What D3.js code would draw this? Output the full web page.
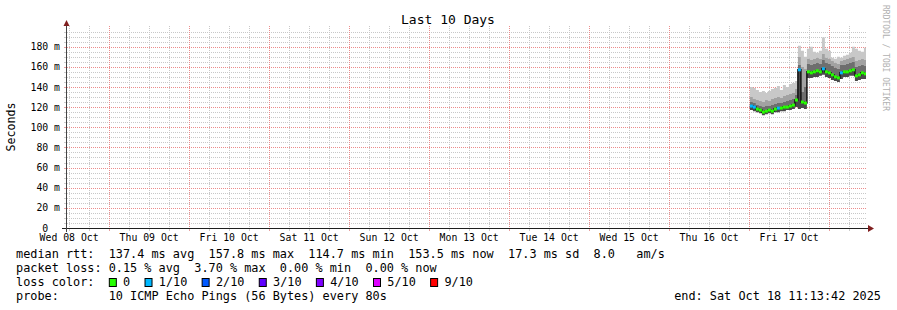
<!DOCTYPE html>
<html>
<head>
<meta charset="utf-8">
<script src="https://cdn.jsdelivr.net/npm/d3@7/dist/d3.min.js"></script>
<style>
  body { margin: 0; background: #fff; }
  svg text { font-family: "DejaVu Sans Mono", monospace; fill: #000; }
</style>
</head>
<body>
<div id="chart"></div>
<script>
// sample start times, hours after Fri 17 Oct 00:00
const hours = [0.4, 1.3, 2.2, 3.1, 4.0, 4.9, 5.8, 6.7, 7.6, 8.5, 9.4, 10.3, 11.2, 12.1, 13.0,
  13.9, 14.8, 15.7, 16.6, 17.5, 18.4, 19.3, 20.2, 21.1, 22.0, 22.9, 23.8, 24.7, 25.6, 26.5,
  27.4, 28.3, 29.2, 30.1, 31.0, 31.9, 32.8, 33.7, 34.6];
const endHour = 35.23;

// round trip times in ms
const median = [121, 120, 118, 117, 115, 116, 117, 116, 118, 119, 119, 120, 120, 121, 122,
  127, 157, 125, 124, 155, 154, 155, 156, 155, 158, 155, 154, 152, 150, 149,
  154, 155, 155, 156, 157, 151, 152, 154, 153];
const loss = [1, 1, 0, 0, 0, 0, 0, 0, 0, 1, 0, 0, 0, 0, 0,
  0, 1, 0, 0, 0, 0, 0, 0, 0, 1, 0, 0, 0, 0, 0,
  1, 0, 0, 0, 0, 0, 0, 0, 0];
const pingMin = [117, 116, 115, 114, 112, 113, 114, 113, 115, 115, 116, 116, 117, 117, 118,
  120, 118, 119, 118, 149, 149, 150, 150, 151, 152, 150, 149, 147, 146, 145,
  148, 150, 150, 151, 151, 146, 147, 148, 148];
const pingP60 = [125, 124, 122, 121, 120, 121, 121, 122, 123, 124, 124, 125, 126, 127, 128,
  132, 162, 135, 140, 163, 162, 163, 164, 163, 167, 164, 163, 161, 159, 158,
  162, 162, 163, 164, 165, 160, 161, 162, 161];
const pingP80 = [130, 128, 127, 126, 125, 127, 126, 128, 129, 130, 129, 131, 132, 133, 134,
  138, 170, 160, 158, 168, 167, 168, 169, 168, 173, 169, 168, 166, 164, 163,
  166, 167, 168, 169, 170, 166, 167, 168, 167];
const pingMax = [140, 139, 137, 135, 136, 134, 136, 138, 139, 141, 137, 142, 140, 143, 144,
  146, 181, 176, 170, 178, 180, 175, 174, 176, 189, 178, 176, 169, 168, 170,
  169, 171, 172, 174, 180, 178, 176, 175, 179];

const yTicks = [0, 0.02, 0.04, 0.06, 0.08, 0.10, 0.12, 0.14, 0.16, 0.18];
const lossLevels = ["0", "1/10", "2/10", "3/10", "4/10", "5/10", "9/10"];
const lossColors = ["#26ff00", "#00b8ff", "#0059ff", "#5e00ff", "#7e00ff", "#dd00ff", "#ff0000"];

const legendLines = [
  "median rtt:  137.4 ms avg  157.8 ms max  114.7 ms min  153.5 ms now  17.3 ms sd  8.0   am/s",
  "packet loss: 0.15 % avg  3.70 % max  0.00 % min  0.00 % now"
];
const probeLine = "probe:       10 ICMP Echo Pings (56 Bytes) every 80s";
const endLine = "end: Sat Oct 18 11:13:42 2025";

const W = 897, H = 310;
const start = new Date(Date.UTC(2025, 9, 8, 11, 13, 42));
const end = new Date(Date.UTC(2025, 9, 18, 11, 13, 42));
const day17 = Date.UTC(2025, 9, 17);
const t = h => new Date(day17 + h * 3600e3);

const data = hours.map((h, i) => ({
  t0: t(h), t1: t(hours[i + 1] !== undefined ? hours[i + 1] : endHour),
  med: median[i] / 1000, loss: loss[i],
  lo: pingMin[i] / 1000, p60: pingP60[i] / 1000, p80: pingP80[i] / 1000, hi: pingMax[i] / 1000
}));
// extra point so step curves reach the end of the last sample
const stepData = data.concat([Object.assign({}, data[data.length - 1], { t0: t(endHour) })]);

const svg = d3.select("#chart").append("svg")
  .attr("width", W).attr("height", H);

const x = d3.scaleUtc().domain([start, end]).range([66, 866]);
const y = d3.scaleLinear().domain([0, 0.2]).range([228, 26.5]);
const lossColor = d3.scaleOrdinal().domain([0, 1, 2, 3, 4, 5, 9]).range(lossColors);

// grid: minor lines first, red major lines on top
const grid = svg.append("g").attr("shape-rendering", "crispEdges");
const hLines = d3.range(5, 200, 5).map(ms => ({ v: ms / 1000, major: ms % 20 === 0 }));
const vLines = d3.utcHour.every(6).range(start, end).map(d => ({ d, major: d.getUTCHours() === 0 }));

[false, true].forEach(pass => {
  const stroke = pass ? "#ec8c8c" : "#c8c8c8";
  hLines.filter(l => l.major === pass).forEach(l => {
    const yy = Math.round(y(l.v)) + 0.5;
    grid.append("line")
      .attr("x1", 67).attr("x2", 866).attr("y1", yy).attr("y2", yy)
      .attr("stroke", stroke).attr("stroke-dasharray", "1,1");
    grid.append("line")
      .attr("x1", 64).attr("x2", 66).attr("y1", yy).attr("y2", yy)
      .attr("stroke", pass ? "#e8a0a0" : "#cccccc");
  });
  vLines.filter(l => l.major === pass).forEach(l => {
    const xx = Math.round(x(l.d)) + 0.5;
    grid.append("line")
      .attr("x1", xx).attr("x2", xx).attr("y1", 26).attr("y2", 228)
      .attr("stroke", stroke).attr("stroke-dasharray", "1,1");
    grid.append("line")
      .attr("x1", xx).attr("x2", xx).attr("y1", 229).attr("y2", 231)
      .attr("stroke", pass ? "#e8a0a0" : "#cccccc");
  });
});

// smoke
const band = (lo, hi) => d3.area()
  .curve(d3.curveStepAfter)
  .x(d => x(d.t0)).y0(d => y(lo(d))).y1(d => y(hi(d)));

const smoke = svg.append("g");
smoke.append("path").datum(stepData).attr("fill", "#c8c8c8")
  .attr("d", band(d => d.p80, d => d.hi));
smoke.append("path").datum(stepData).attr("fill", "#a2a2a2")
  .attr("d", band(d => d.p60, d => d.p80));
smoke.append("path").datum(stepData).attr("fill", "#6e6e6e")
  .attr("d", band(d => d.med, d => d.p60));
smoke.append("path").datum(stepData).attr("fill", "#4a4a4a")
  .attr("d", band(d => d.lo, d => d.med));

// median line
svg.append("path").datum(stepData)
  .attr("fill", "none").attr("stroke", "#111").attr("stroke-width", 1.5)
  .attr("d", d3.line().curve(d3.curveStepAfter).x(d => x(d.t0)).y(d => y(d.med)));

svg.append("g").selectAll("rect").data(data).join("rect")
  .attr("x", d => x(d.t0))
  .attr("width", d => x(d.t1) - x(d.t0))
  .attr("y", d => y(d.med) - 1.5)
  .attr("height", 3)
  .attr("fill", d => lossColor(d.loss));

// axes
const noons = d3.utcDay.range(d3.utcDay.floor(start), end)
  .map(d => d3.utcHour.offset(d, 12))
  .filter(d => d < end);

const xAxis = svg.append("g")
  .attr("transform", "translate(0,228)")
  .call(d3.axisBottom(x).tickValues(noons).tickSize(0).tickPadding(6)
    .tickFormat(d3.utcFormat("%a %d %b")));
xAxis.select(".domain").remove();
xAxis.selectAll("text").style("font-family", "DejaVu Sans Mono").style("font-size", "9.8px");

const yAxis = svg.append("g")
  .attr("transform", "translate(66,0)")
  .call(d3.axisLeft(y).tickValues(yTicks).tickSize(0).tickPadding(6)
    .tickFormat(d => d === 0 ? "0  " : Math.round(d * 1000) + " m"));
yAxis.select(".domain").remove();
yAxis.selectAll("text").attr("xml:space", "preserve")
  .style("font-family", "DejaVu Sans Mono").style("font-size", "9.8px");

svg.append("line").attr("shape-rendering", "crispEdges")
  .attr("x1", 62).attr("x2", 870).attr("y1", 228.5).attr("y2", 228.5)
  .attr("stroke", "#1f1f1f");
svg.append("line").attr("shape-rendering", "crispEdges")
  .attr("x1", 66.5).attr("x2", 66.5).attr("y1", 232).attr("y2", 24)
  .attr("stroke", "#444");
svg.append("path").attr("d", "M868,225 L874,228.5 L868,232 Z").attr("fill", "#801f1f");
svg.append("path").attr("d", "M63.5,26 L66.5,20 L69.5,26 Z").attr("fill", "#801f1f");

// title and labels
svg.append("text").attr("x", 448).attr("y", 24)
  .attr("text-anchor", "middle").style("font-size", "13px")
  .text("Last 10 Days");

svg.append("text")
  .attr("transform", "translate(15,127) rotate(-90)")
  .attr("text-anchor", "middle").style("font-size", "11.6px")
  .text("Seconds");

svg.append("text")
  .attr("transform", "translate(883,5) rotate(90)")
  .style("font-size", "8px").style("fill", "#b0b0b0")
  .text("RRDTOOL / TOBI OETIKER");

// legend
const cw = 7.14;
const lx = 16;
legendLines.forEach((s, i) => {
  svg.append("text").attr("x", lx).attr("y", 258 + i * 14)
    .attr("xml:space", "preserve").style("font-size", "11.85px").text(s);
});
svg.append("text").attr("x", lx).attr("y", 286)
  .style("font-size", "11.85px").text("loss color:");
let col = 13;
lossLevels.forEach((lab, i) => {
  svg.append("rect")
    .attr("x", lx + col * cw + 0.5).attr("y", 278.5)
    .attr("width", 7).attr("height", 8)
    .attr("fill", lossColors[i]).attr("stroke", "#000").attr("stroke-width", 1);
  svg.append("text").attr("x", lx + (col + 2) * cw).attr("y", 286)
    .style("font-size", "11.85px").text(lab);
  col += lab.length + 4;
});
svg.append("text").attr("x", lx).attr("y", 300)
  .attr("xml:space", "preserve").style("font-size", "11.85px").text(probeLine);
svg.append("text").attr("x", 881).attr("y", 300)
  .attr("text-anchor", "end").style("font-size", "11.85px").text(endLine);
</script>
</body>
</html>
